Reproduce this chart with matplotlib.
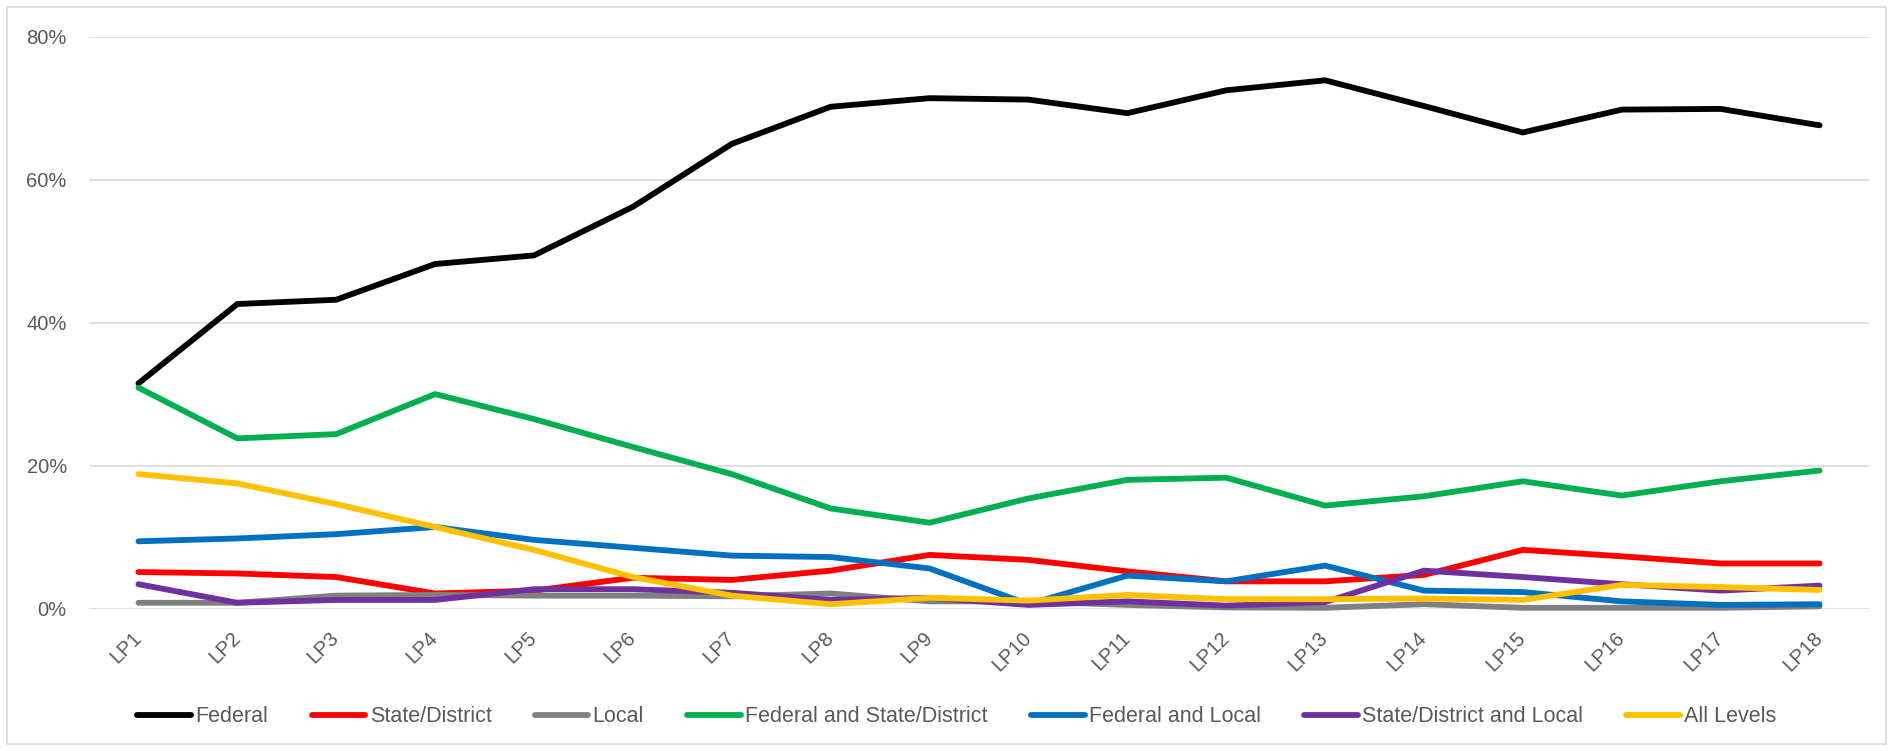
import numpy as np
import matplotlib
matplotlib.use("Agg")
import matplotlib.pyplot as plt
from matplotlib.patches import Rectangle

plt.rcParams['font.family'] = ['Liberation Sans', 'DejaVu Sans']

# ---- data (shares, in percent) ----
periods = ["LP%d" % i for i in range(1, 19)]

federal = [31.5, 42.6, 43.2, 48.2, 49.4, 56.2, 65.0, 70.2, 71.4, 71.2,
           69.3, 72.5, 73.9, 70.3, 66.6, 69.8, 69.9, 67.6]
state_district = [5.1, 4.9, 4.4, 2.1, 2.5, 4.3, 4.0, 5.3, 7.5, 6.8,
                  5.2, 3.8, 3.8, 4.7, 8.2, 7.3, 6.3, 6.3]
local = [0.8, 0.8, 1.8, 1.9, 1.8, 1.8, 1.7, 2.1, 1.0, 1.0,
         0.5, 0.15, 0.1, 0.6, 0.1, 0.1, 0.1, 0.3]
federal_state = [30.9, 23.8, 24.4, 30.0, 26.5, 22.6, 18.8, 14.0, 12.0, 15.4,
                 18.0, 18.3, 14.4, 15.7, 17.8, 15.8, 17.8, 19.3]
federal_local = [9.4, 9.8, 10.4, 11.4, 9.6, 8.5, 7.4, 7.2, 5.6, 0.6,
                 4.6, 3.8, 6.0, 2.5, 2.3, 1.0, 0.5, 0.6]
state_local = [3.4, 0.8, 1.2, 1.2, 2.7, 2.7, 2.2, 1.2, 1.5, 0.5,
               1.0, 0.4, 0.9, 5.3, 4.4, 3.4, 2.5, 3.2]
all_levels = [18.8, 17.5, 14.6, 11.4, 8.2, 4.4, 1.8, 0.6, 1.5, 1.1,
              1.9, 1.3, 1.3, 1.4, 1.2, 3.3, 3.0, 2.6]

series = [
    ("Federal", federal, "#000000"),
    ("State/District", state_district, "#FF0000"),
    ("Local", local, "#808080"),
    ("Federal and State/District", federal_state, "#00B050"),
    ("Federal and Local", federal_local, "#0070C0"),
    ("State/District and Local", state_local, "#7030A0"),
    ("All Levels", all_levels, "#FFC000"),
]

W, H = 1893, 751
fig = plt.figure(figsize=(W / 100, H / 100), dpi=100)
ax = fig.add_axes([89 / W, (H - 608.5) / H, (1869 - 89) / W, (608.5 - 36.7) / H])

x = np.arange(len(periods))
for name, vals, col in series:
    ax.plot(x, np.array(vals) / 100, color=col, lw=4.2, label=name,
            solid_capstyle='round', solid_joinstyle='round', clip_on=False, zorder=3)

ax.set_xlim(-0.5, len(periods) - 0.5)
ax.set_ylim(0, 0.8)
ax.set_yticks([0, 0.2, 0.4, 0.6, 0.8])
ax.set_yticklabels(["0%", "20%", "40%", "60%", "80%"])
ax.set_xticks(x)
ax.set_xticklabels(periods, rotation=45, ha='right', va='center',
                   rotation_mode='anchor')

ax.grid(axis='y', color='#D9D9D9', lw=1.1, zorder=0)
ax.set_axisbelow(True)
for s in ax.spines.values():
    s.set_visible(False)
ax.tick_params(axis='both', length=0, labelsize=14.5, colors='#595959')
ax.tick_params(axis='y', pad=16)
ax.tick_params(axis='x', pad=19)

leg = fig.legend(loc='center', bbox_to_anchor=(957 / W, 1 - 717 / H), ncol=7,
                 frameon=False, fontsize=15.5, handlelength=2.5,
                 handletextpad=0.2, columnspacing=2.0)
for t in leg.get_texts():
    t.set_color('#595959')

# chart area border
fig.patches.append(Rectangle((7 / W, 7 / H), (W - 14) / W, (H - 14) / H,
                             transform=fig.transFigure, fill=False,
                             edgecolor='#D9D9D9', lw=1.2))

fig.savefig("out.png", dpi=100, facecolor='white')
